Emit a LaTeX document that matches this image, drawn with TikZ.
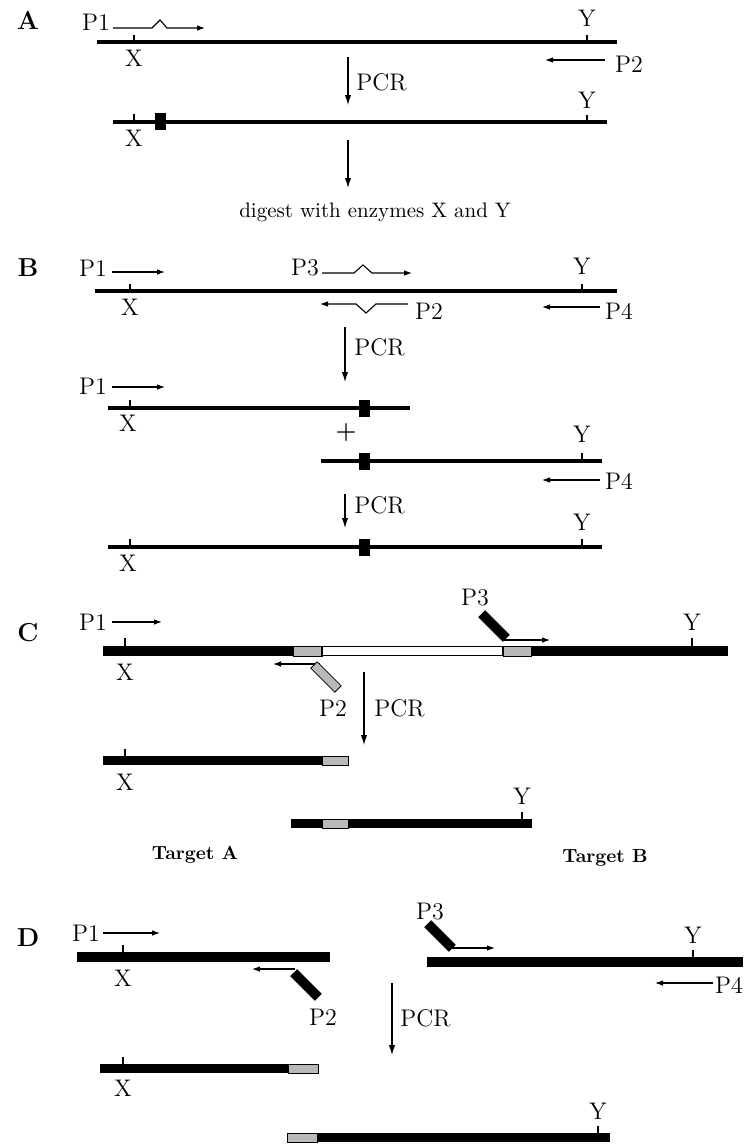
\documentclass[tikz,border=0pt]{standalone}
\usetikzlibrary{arrows.meta}
\begin{document}
\begin{tikzpicture}[x=0.5pt, y=-0.5pt,
    dna/.style={line width=2.2pt},
    tick/.style={line width=0.7pt},
    primer/.style={-{Latex[length=4pt,width=2.8pt]}, line width=0.55pt},
    pcr/.style={-{Latex[length=5pt,width=3.2pt]}, line width=0.55pt},
    lbl/.style={font=\fontsize{12}{14}\selectfont, inner sep=0pt},
    panel/.style={font=\bfseries\fontsize{13}{15}\selectfont, inner sep=0pt},
    target/.style={font=\bfseries\fontsize{9.5}{11}\selectfont, inner sep=0pt},
    mut/.style={fill=black, minimum width=5.5pt, minimum height=8.5pt, inner sep=0pt},
    stip/.style={fill=gray!55},
    tail/.style={draw, line width=0.4pt, minimum width=17pt, minimum height=4.5pt, inner sep=0pt, rotate=-45},
]
\useasboundingbox (0,0) rectangle (753,1147);

% panel A
\node[panel] (lblA) at (28,20) {A};
\node[lbl] (p1A) at (96,22) {P1};
\draw[primer] (113,28) -- (152,28) -- (160,20) -- (167,28) -- (205,28);
\draw[dna] (97,42) -- (617,42);
\draw[tick] (134,35) -- (134,42);
\node[lbl] (xA1) at (134,58) {X};
\draw[tick] (587,35) -- (587,42);
\node[lbl] (yA1) at (587,18) {Y};
\draw[primer] (605,60) -- (545,60);
\node[lbl] (p2A) at (629,64) {P2};
\draw[pcr] (348,57) -- (348,105);
\node[lbl, anchor=west] (pcrA) at (356,82) {PCR};
\draw[dna] (113,122) -- (607,122);
\node[mut] (mutA) at (160,121) {};
\draw[tick] (134,114) -- (134,122);
\node[lbl] (xA2) at (134,138) {X};
\draw[tick] (587,115) -- (587,122);
\node[lbl] (yA2) at (587,100) {Y};
\draw[pcr] (348,140) -- (348,188);
\node[lbl, font=\fontsize{10.5}{12}\selectfont] (digest) at (375,212) {digest with enzymes X and Y};

% panel B
\node[panel] (lblB) at (28,268) {B};
\node[lbl] (p1B) at (93,268) {P1};
\draw[primer] (112,272) -- (165,272);
\draw[dna] (95,291) -- (617,291);
\draw[tick] (130,284) -- (130,291);
\node[lbl] (xB1) at (130,307) {X};
\draw[tick] (582,284) -- (582,291);
\node[lbl] (yB1) at (582,266) {Y};
\node[lbl] (p3B) at (305,268) {P3};
\draw[primer] (322,273) -- (354,273) -- (363,265) -- (372,273) -- (412,273);
\draw[primer] (408,304) -- (376,304) -- (366,313) -- (356,304) -- (320,304);
\node[lbl] (p2B) at (429,311) {P2};
\draw[primer] (600,307) -- (542,307);
\node[lbl] (p4B1) at (619,311) {P4};
\draw[pcr] (345,327) -- (345,382);
\node[lbl, anchor=west] (pcrB1) at (354,347) {PCR};
\node[lbl] (p1B2) at (93,386) {P1};
\draw[primer] (112,387) -- (165,387);
\draw[dna] (108,408) -- (410,408);
\node[mut] (mutB1) at (364,408) {};
\draw[tick] (130,400) -- (130,408);
\node[lbl] (xB2) at (128,423) {X};
\node[lbl] (plus) at (346,433) {\textbf{+}};
\draw[dna] (321,461) -- (602,461);
\node[mut] (mutB2) at (364,461) {};
\draw[tick] (582,453) -- (582,461);
\node[lbl] (yB2) at (582,434) {Y};
\draw[primer] (600,480) -- (542,480);
\node[lbl] (p4B2) at (619,481) {P4};
\draw[pcr] (345,494) -- (345,528);
\node[lbl, anchor=west] (pcrB2) at (354,505) {PCR};
\draw[dna] (108,547) -- (602,547);
\node[mut] (mutB3) at (364,547) {};
\draw[tick] (130,539) -- (130,547);
\node[lbl] (xB3) at (128,563) {X};
\draw[tick] (582,539) -- (582,547);
\node[lbl] (yB3) at (582,522) {Y};

% panel C
\node[panel] (lblC) at (28,633) {C};
\node[lbl] (p1C) at (93,622) {P1};
\draw[primer] (112,622) -- (162,622);
\fill (103,646) rectangle (293,656);
\filldraw[stip, draw=black, line width=0.3pt] (293,646) rectangle (322,656);
\draw[fill=white, line width=0.8pt] (322,646.5) rectangle (503,655.5);
\filldraw[stip, draw=black, line width=0.3pt] (503,646) rectangle (531,656);
\fill (531,646) rectangle (728,656);
\draw[tick] (125,638) -- (125,646);
\node[lbl] (xC1) at (125,672) {X};
\draw[tick] (692,638) -- (692,646);
\node[lbl] (yC1) at (692,622) {Y};
\node[lbl] (p3C) at (475,598) {P3};
\node[tail, fill=black] (tailP3C) at (494,626) {};
\draw[primer] (504,640) -- (550,640);
\draw[primer] (320,664) -- (273,664);
\node[tail, stip] (tailP2C) at (326,677) {};
\node[lbl] (p2C) at (333,708) {P2};
\draw[pcr] (364,672) -- (364,745);
\node[lbl, anchor=west] (pcrC) at (374,708) {PCR};
\fill (103,756) rectangle (322,765);
\filldraw[stip, draw=black, line width=0.3pt] (322,756) rectangle (348,765);
\draw[tick] (125,749) -- (125,756);
\node[lbl] (xC2) at (125,782) {X};
\fill (291,819) rectangle (322,828);
\filldraw[stip, draw=black, line width=0.3pt] (322,819) rectangle (348,828);
\fill (348,819) rectangle (532,828);
\draw[tick] (522,812) -- (522,819);
\node[lbl] (yC2) at (522,796) {Y};
\node[target] (tgtA) at (195,855) {Target A};
\node[target] (tgtB) at (605,858) {Target B};

% panel D
\node[panel] (lblD) at (28,938) {D};
\node[lbl] (p1D) at (86,933) {P1};
\draw[primer] (103,933) -- (160,933);
\fill (77,952) rectangle (330,962);
\draw[tick] (123,945) -- (123,952);
\node[lbl] (xD1) at (123,978) {X};
\draw[primer] (295,969) -- (252,969);
\node[tail, fill=black] (tailP2D) at (306,985) {};
\node[lbl] (p2D) at (323,1017) {P2};
\node[lbl] (p3D) at (430,912) {P3};
\node[tail, fill=black] (tailP3D) at (440,936) {};
\draw[primer] (448,948) -- (495,948);
\fill (427,957) rectangle (743,967);
\draw[tick] (693,950) -- (693,957);
\node[lbl] (yD1) at (693,935) {Y};
\draw[primer] (713,983) -- (655,983);
\node[lbl] (p4D) at (729,985) {P4};
\draw[pcr] (392,983) -- (392,1055);
\node[lbl, anchor=west] (pcrD) at (400,1018) {PCR};
\fill (100,1064) rectangle (288,1073);
\filldraw[stip, draw=black, line width=0.3pt] (288,1064) rectangle (318,1073);
\draw[tick] (123,1057) -- (123,1064);
\node[lbl] (xD2) at (123,1088) {X};
\filldraw[stip, draw=black, line width=0.3pt] (287,1133) rectangle (317,1142);
\fill (317,1133) rectangle (610,1142);
\draw[tick] (598,1126) -- (598,1133);
\node[lbl] (yD2) at (598,1111) {Y};

\end{tikzpicture}
\end{document}
